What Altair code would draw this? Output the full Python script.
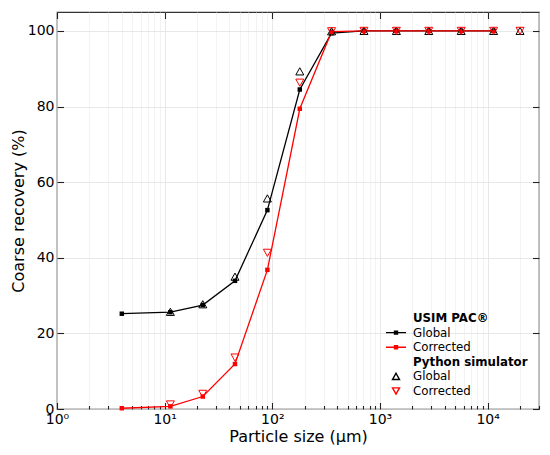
import altair as alt
import pandas as pd

# ---------------- data ----------------
usim_size = [4, 11.3, 22.6, 45, 90, 180, 355, 710, 1420, 2840, 5680, 11360]
usim_global = [25.2, 25.6, 27.5, 33.9, 52.6, 84.5, 99.4, 100, 100, 100, 100, 100]
usim_corrected = [0.2, 0.7, 3.3, 11.9, 36.8, 79.4, 99.8, 100, 100, 100, 100, 100]

py_size = [11.3, 22.6, 45, 90, 180, 355, 710, 1420, 2840, 5680, 11360, 20000]
py_global = [25.7, 27.7, 35.0, 55.7, 89.3, 99.9, 100, 100, 100, 100, 100, 100]
py_corrected = [1.2, 4.0, 13.6, 41.3, 86.3, 99.9, 100, 100, 100, 100, 100, 100]

x_major = [1, 10, 100, 1000, 10000]
x_major_labels = ["10⁰", "10¹", "10²", "10³", "10⁴"]
x_minor = [m * d for d in x_major for m in range(2, 10) if m * d <= 30000]
y_ticks = [0, 20, 40, 60, 80, 100]

legend_keys = ["h1", "g1", "c1", "h2", "g2", "c2"]
legend_labels = ["USIM PAC®", "Global", "Corrected", "Python simulator", "Global", "Corrected"]
legend_headers = ["h1", "h2"]

# ---------------- styles ----------------
W, H = 482, 397
FONT = "DejaVu Sans"
BLACK = "#000000"
RED = "#ff0000"
legend_colors = [BLACK, BLACK, RED, BLACK, BLACK, RED]
SQ = "M-2,0H2M-0.3,-0.3H0.3V0.3H-0.3ZM-0.3,-0.15H0.3M-0.3,0.15H0.3"
legend_paths = [
    "M0,0",
    SQ,
    SQ,
    "M0,0",
    "M0,-0.63L0.7,0.63L-0.7,0.63Z",
    "M0,0.63L0.7,-0.63L-0.7,-0.63Z",
]
TRI_UP = "M0,-0.9L1,0.9L-1,0.9Z"
TRI_DOWN = "M0,0.9L1,-0.9L-1,-0.9Z"

df_ug = pd.DataFrame({"size": usim_size, "value": usim_global})
df_uc = pd.DataFrame({"size": usim_size, "value": usim_corrected})
df_pg = pd.DataFrame({"size": py_size, "value": py_global})
df_pc = pd.DataFrame({"size": py_size, "value": py_corrected})
df_leg = pd.DataFrame({"key": legend_keys, "size": [1] * len(legend_keys), "value": [-100] * len(legend_keys)})

xs = alt.Scale(type="log", domain=[1, 30000], nice=False)
ys = alt.Scale(domain=[0, 105], nice=False, zero=False)

xlab_expr = "{" + ",".join(f"'{v}':'{l}'" for v, l in zip(x_major, x_major_labels)) + "}[datum.value]"
leg_expr = "{" + ",".join(f"'{k}':'{l}'" for k, l in zip(legend_keys, legend_labels)) + "}[datum.value]"
bold_expr = "indexof(" + str(legend_headers) + ", datum.value) >= 0 ? 'bold' : 'normal'"

TICK = dict(labels=False, ticks=True, tickColor="#222222", tickWidth=1.1, domain=False, grid=False, title=None)

ax_x_labels = alt.Axis(orient="bottom", values=x_major, labelExpr=xlab_expr, ticks=False, tickSize=0,
                       domain=False, grid=True, gridColor="#e2e2e2", gridWidth=0.8, labelFlush=False,
                       labelOverlap=False, labelFontSize=14, labelPadding=3,
                       title="Particle size (μm)", titleFontSize=16, titleFontWeight="normal", titlePadding=2)
ax_x_minor_grid = alt.Axis(orient="bottom", values=x_minor, labels=False, ticks=False, domain=False,
                           grid=True, gridColor="#eeeeee", gridWidth=0.7, title=None)
ax_x_in_major = alt.Axis(orient="top", offset=-H, values=x_major, tickSize=6.5, **TICK)
ax_x_in_minor = alt.Axis(orient="top", offset=-H, values=x_minor, tickSize=3.5, **TICK)
ax_x_top_major = alt.Axis(orient="bottom", offset=-H, values=x_major, tickSize=6.5, **TICK)

ax_y_labels = alt.Axis(orient="left", values=y_ticks, ticks=False, tickSize=0, domain=False, grid=True,
                       gridColor="#e2e2e2", gridWidth=0.8, labelFlush=False, labelFontSize=14, labelPadding=3,
                       title="Coarse recovery (%)", titleFontSize=16, titleFontWeight="normal", titlePadding=1)
ax_y_in_left = alt.Axis(orient="right", offset=-W, values=y_ticks, tickSize=6.5, **TICK)
ax_y_in_right = alt.Axis(orient="left", offset=-W, values=y_ticks, tickSize=6.5, **TICK)


def enc(xaxis, yaxis):
    return dict(
        x=alt.X("size:Q", scale=xs, axis=xaxis),
        y=alt.Y("value:Q", scale=ys, axis=yaxis),
    )


l1 = alt.Chart(df_ug).mark_line(color=BLACK, strokeWidth=1.3).encode(**enc(ax_x_labels, ax_y_labels))
l2 = alt.Chart(df_uc).mark_line(color=RED, strokeWidth=1.3).encode(**enc(ax_x_minor_grid, ax_y_in_left))
l3 = alt.Chart(df_ug).mark_square(color=BLACK, size=20, opacity=1).encode(**enc(ax_x_in_major, ax_y_in_right))
l4 = alt.Chart(df_uc).mark_square(color=RED, size=20, opacity=1).encode(**enc(ax_x_in_minor, None))
l5 = alt.Chart(df_pg).mark_point(shape=TRI_UP, size=64, filled=False, color=BLACK, strokeWidth=1.0,
                                 opacity=1).encode(**enc(ax_x_top_major, None))
l6 = alt.Chart(df_pc).mark_point(shape=TRI_DOWN, size=64, filled=False, color=RED, strokeWidth=1.0,
                                 opacity=1).encode(**enc(None, None))

leg = dict(title=None, orient="none", legendX=333, legendY=300, labelExpr=leg_expr, labelFont=FONT,
           labelFontSize=11.8, labelFontWeight=alt.ExprRef(bold_expr), labelColor="#000000",
           symbolSize=100, symbolStrokeWidth=1.4, symbolOpacity=1, labelOffset=11, rowPadding=1.6,
           padding=0, offset=0)

l7 = alt.Chart(df_leg).mark_point(filled=False, clip=True, opacity=1).encode(
    x=alt.X("size:Q", scale=xs, axis=None),
    y=alt.Y("value:Q", scale=ys, axis=None),
    stroke=alt.Stroke("key:N", scale=alt.Scale(domain=legend_keys, range=legend_colors), legend=alt.Legend(**leg)),
    shape=alt.Shape("key:N", scale=alt.Scale(domain=legend_keys, range=legend_paths), legend=alt.Legend(**leg)),
)

chart = (
    alt.layer(l1, l2, l3, l4, l5, l6, l7)
    .resolve_scale(x="shared", y="shared")
    .resolve_axis(x="independent", y="independent")
    .properties(width=W, height=H, autosize=alt.AutoSizeParams(type="none"),
                padding={"left": 49, "top": 4, "right": 3, "bottom": 38}, background="white")
    .configure_view(stroke="#333333", strokeWidth=1.2)
    .configure_axis(labelFont=FONT, titleFont=FONT, labelColor="#000000", titleColor="#000000")
)

chart.save("out.html", embed_options={"renderer": "svg", "actions": False})
